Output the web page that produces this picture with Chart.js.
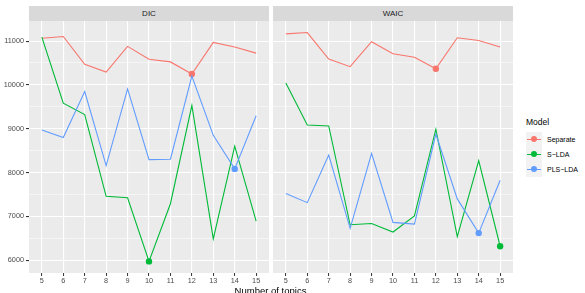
<!DOCTYPE html>
<html>
<head>
<meta charset="utf-8">
<script src="https://cdn.jsdelivr.net/npm/chart.js@4.4.1/dist/chart.umd.min.js"></script>
<style>
  html, body { margin: 0; padding: 0; background: #fff; }
  #wrap { position: relative; width: 585px; height: 293px; overflow: hidden; font-family: "Liberation Sans", Arial, sans-serif; }
  .strip { position: absolute; top: 6px; height: 15px; background: #D9D9D9; color: #1A1A1A; font-size: 8px; line-height: 15px; text-align: center; }
  canvas { position: absolute; top: 21px; }
  #xtitle { position: absolute; left: 0; width: 541px; top: 285px; text-align: center; font-size: 9.5px; color: #000; }
  #legTitle { position: absolute; left: 526px; top: 117px; font-size: 8.5px; color: #000; }
  .key { position: absolute; left: 526px; width: 16px; height: 15px; background: #F2F2F2; }
  .key .ln { position: absolute; left: 1px; right: 1px; top: 7px; height: 1px; }
  .key .pt { position: absolute; left: 5px; top: 4px; width: 6px; height: 6px; border-radius: 50%; }
  .lab { position: absolute; left: 547px; font-size: 7px; color: #000; line-height: 15px; }
</style>
</head>
<body>
<div id="wrap">
  <div class="strip" style="left:29px;width:240px;">DIC</div>
  <div class="strip" style="left:273px;width:240px;">WAIC</div>
  <canvas id="dicChart" width="270" height="272" style="left:0px;"></canvas>
  <canvas id="waicChart" width="240" height="272" style="left:273px;"></canvas>
  <div id="xtitle">Number of topics</div>
  <div id="legend"></div>
</div>
<script>
const topics = [5, 6, 7, 8, 9, 10, 11, 12, 13, 14, 15];
const yTicks = [6000, 7000, 8000, 9000, 10000, 11000];
const yMinor = [6500, 7500, 8500, 9500, 10500];
const seriesNames = ["Separate", "S\u2212LDA", "PLS\u2212LDA"];
const seriesColors = ["#F8766D", "#00BA38", "#619CFF"];

const dicSeparate = [11065, 11105, 10470, 10295, 10880, 10585, 10525, 10250, 10970, 10865, 10725];
const dicSLDA     = [11090, 9585, 9325, 7460, 7425, 5975, 7290, 9530, 6490, 8605, 6895];
const dicPLS      = [8970, 8800, 9850, 8160, 9910, 8295, 8305, 10200, 8850, 8085, 9295];

const waicSeparate = [11165, 11195, 10590, 10415, 10985, 10710, 10630, 10370, 11075, 11015, 10865];
const waicSLDA     = [10045, 9085, 9065, 6810, 6840, 6645, 7010, 8990, 6540, 8275, 6320];
const waicPLS      = [7525, 7315, 8400, 6730, 8440, 6865, 6825, 8880, 7400, 6620, 7825];

const panelBg = {
  id: "panelBg",
  beforeDraw(chart) {
    const a = chart.chartArea, c = chart.ctx;
    c.save();
    c.fillStyle = "#EBEBEB";
    c.fillRect(a.left, a.top, a.right - a.left, a.bottom - a.top);
    c.restore();
  }
};

function noPad(s) {
  s.paddingTop = 0; s.paddingBottom = 0; s.paddingLeft = 0; s.paddingRight = 0;
}

function makeDatasets(list) {
  return list.map((vals, i) => {
    const minIdx = vals.indexOf(Math.min(...vals));
    return {
      label: seriesNames[i],
      data: topics.map((t, j) => ({ x: t, y: vals[j] })),
      borderColor: seriesColors[i],
      backgroundColor: seriesColors[i],
      borderWidth: 1.1,
      tension: 0,
      pointRadius: vals.map((v, j) => j === minIdx ? 3.2 : 0),
      pointHoverRadius: 0,
      pointBorderWidth: 0,
      order: 3 - i,
    };
  });
}

function makeChart(id, datasets, showY) {
  return new Chart(document.getElementById(id), {
    type: "line",
    data: { datasets },
    plugins: [panelBg],
    options: {
      responsive: false,
      animation: false,
      events: [],
      layout: { autoPadding: false, padding: { top: 0, left: 0, right: showY ? 1 : 0, bottom: 0 } },
      plugins: { legend: { display: false }, tooltip: { enabled: false } },
      scales: {
        x: {
          type: "linear",
          min: 4.4,
          max: 15.6,
          afterBuildTicks: s => { s.ticks = topics.map(v => ({ value: v })); },
          afterFit: s => { s.height = 20; noPad(s); },
          border: { display: false },
          grid: { color: "#FFFFFF", lineWidth: 1.1, tickLength: 3, tickColor: "#333333", tickWidth: 1 },
          ticks: { font: { family: "Liberation Sans", size: 7.3 }, color: "#4D4D4D", padding: 1, maxRotation: 0, autoSkip: false },
        },
        y: {
          type: "linear",
          min: 5710,
          max: 11458,
          afterBuildTicks: s => {
            s.ticks = yTicks.concat(yMinor).sort((a, b) => a - b).map(v => ({ value: v }));
          },
          afterFit: s => { s.width = showY ? 29 : 0; noPad(s); },
          border: { display: false },
          grid: {
            color: "#FFFFFF",
            lineWidth: c => (c.tick && yTicks.includes(c.tick.value)) ? 1.1 : 0.5,
            drawTicks: showY,
            tickLength: 3,
            tickColor: c => (c.tick && yTicks.includes(c.tick.value)) ? "#333333" : "rgba(0,0,0,0)",
          },
          ticks: {
            display: showY,
            font: { family: "Liberation Sans", size: 7.3 },
            color: "#4D4D4D",
            padding: 2,
            autoSkip: false,
            callback: v => yTicks.includes(v) ? String(v) : "",
          },
        },
      },
    },
  });
}

makeChart("dicChart", makeDatasets([dicSeparate, dicSLDA, dicPLS]), true);
makeChart("waicChart", makeDatasets([waicSeparate, waicSLDA, waicPLS]), false);

// legend, ggplot style
const leg = document.getElementById("legend");
let html = '<div id="legTitle">Model</div>';
seriesNames.forEach((n, i) => {
  const top = 132 + i * 15;
  html += `<div class="key" style="top:${top}px"><div class="ln" style="background:${seriesColors[i]}"></div><div class="pt" style="background:${seriesColors[i]}"></div></div>`;
  html += `<div class="lab" style="top:${top}px">${n}</div>`;
});
leg.innerHTML = html;
</script>
</body>
</html>
